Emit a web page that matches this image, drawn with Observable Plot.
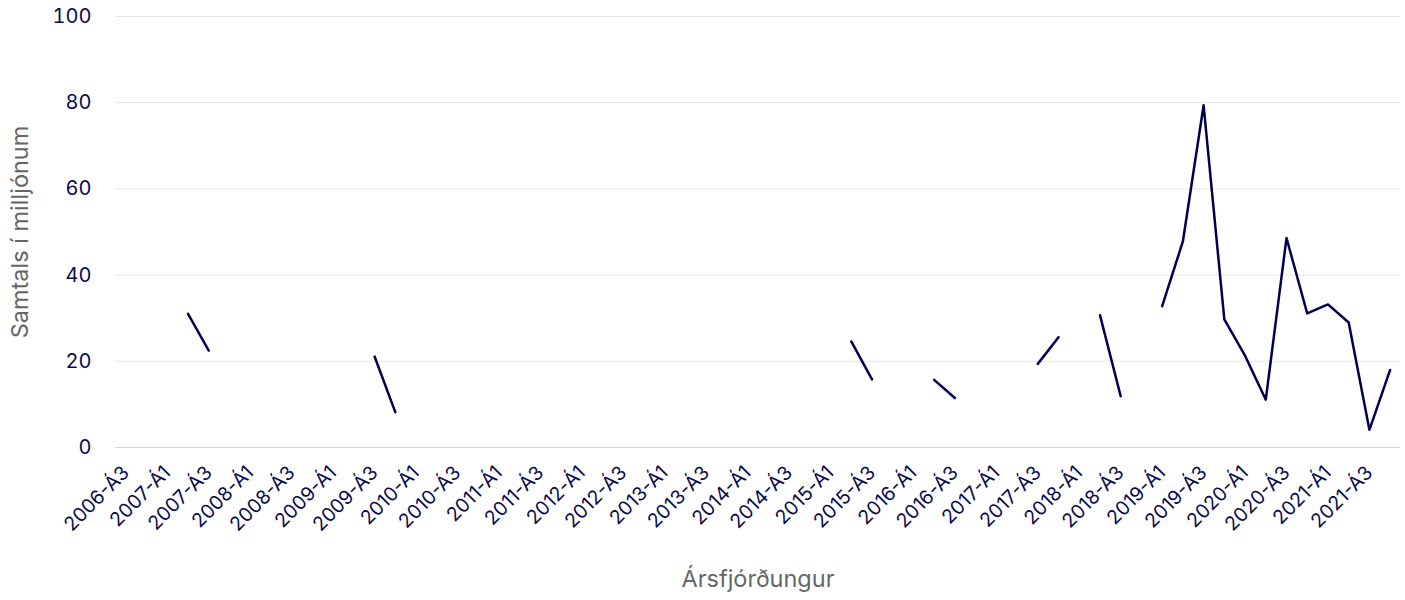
<!DOCTYPE html>
<html>
<head>
<meta charset="utf-8">
<script src="https://cdn.jsdelivr.net/npm/d3@7"></script>
<script src="https://cdn.jsdelivr.net/npm/@observablehq/plot@0.6"></script>
<style>
  html, body { margin: 0; padding: 0; background: #fff; }
  #chart { width: 1405px; height: 600px; }
</style>
</head>
<body>
<div id="chart"></div>
<script>
const quarters = [
  "2006-Á3","2006-Á4",
  "2007-Á1","2007-Á2","2007-Á3","2007-Á4",
  "2008-Á1","2008-Á2","2008-Á3","2008-Á4",
  "2009-Á1","2009-Á2","2009-Á3","2009-Á4",
  "2010-Á1","2010-Á2","2010-Á3","2010-Á4",
  "2011-Á1","2011-Á2","2011-Á3","2011-Á4",
  "2012-Á1","2012-Á2","2012-Á3","2012-Á4",
  "2013-Á1","2013-Á2","2013-Á3","2013-Á4",
  "2014-Á1","2014-Á2","2014-Á3","2014-Á4",
  "2015-Á1","2015-Á2","2015-Á3","2015-Á4",
  "2016-Á1","2016-Á2","2016-Á3","2016-Á4",
  "2017-Á1","2017-Á2","2017-Á3","2017-Á4",
  "2018-Á1","2018-Á2","2018-Á3","2018-Á4",
  "2019-Á1","2019-Á2","2019-Á3","2019-Á4",
  "2020-Á1","2020-Á2","2020-Á3","2020-Á4",
  "2021-Á1","2021-Á2","2021-Á3","2021-Á4"
];
const values = [
  null, null,
  null, 31.0, 22.5, null,
  null, null, null, null,
  null, null, 21.1, 8.2,
  null, null, null, null,
  null, null, null, null,
  null, null, null, null,
  null, null, null, null,
  null, null, null, null,
  null, 24.6, 15.8, null,
  null, 15.7, 11.5, null,
  null, null, 19.4, 25.6,
  null, 30.7, 11.9, null,
  32.8, 47.8, 79.4, 29.7,
  21.3, 11.1, 48.6, 31.1,
  33.2, 29.0, 4.1, 18.0
];
const xTicks = quarters.filter((q, i) => i % 2 === 0);
const yTicks = [0, 20, 40, 60, 80, 100];
const yTitle = "Samtals í milljónum";
const xTitle = "Ársfjórðungur";

const data = quarters.map((q, i) => ({q, v: values[i]}));

const navy = "#0b0c4f";
const font = "Inter, 'Noto Sans', sans-serif";

const chart = Plot.plot({
  width: 1405,
  height: 600,
  marginTop: 16,
  marginBottom: 153,
  marginLeft: 115,
  marginRight: 5,
  style: {fontFamily: font, background: "#fff", overflow: "visible"},
  x: {type: "point", domain: quarters, padding: 0.5},
  y: {domain: [0, 100]},
  marks: [
    Plot.gridY(yTicks.filter(d => d > 0), {stroke: "#e6e6e6", strokeOpacity: 1, strokeWidth: 1}),
    Plot.ruleY([0], {stroke: "#ccd6eb", strokeWidth: 1}),
    Plot.axisY(yTicks, {tickSize: 0, tickPadding: 24, fontSize: 20, fill: navy, label: null}),
    Plot.axisX(xTicks, {tickSize: 0, tickRotate: -45, tickPadding: 22, fontSize: 19.5, fill: navy, label: null}),
    Plot.text([yTitle], {frameAnchor: "left", dx: -95, rotate: -90, fontSize: 23.5, fill: "#666666", textAnchor: "middle"}),
    Plot.text([xTitle], {frameAnchor: "bottom", dy: 139, fontSize: 23.5, fill: "#666666", textAnchor: "middle"}),
    Plot.line(data, {x: "q", y: "v", stroke: "#00004f", strokeWidth: 2.5, strokeLinejoin: "round", strokeLinecap: "round"})
  ]
});
document.getElementById("chart").appendChild(chart);
</script>
</body>
</html>
